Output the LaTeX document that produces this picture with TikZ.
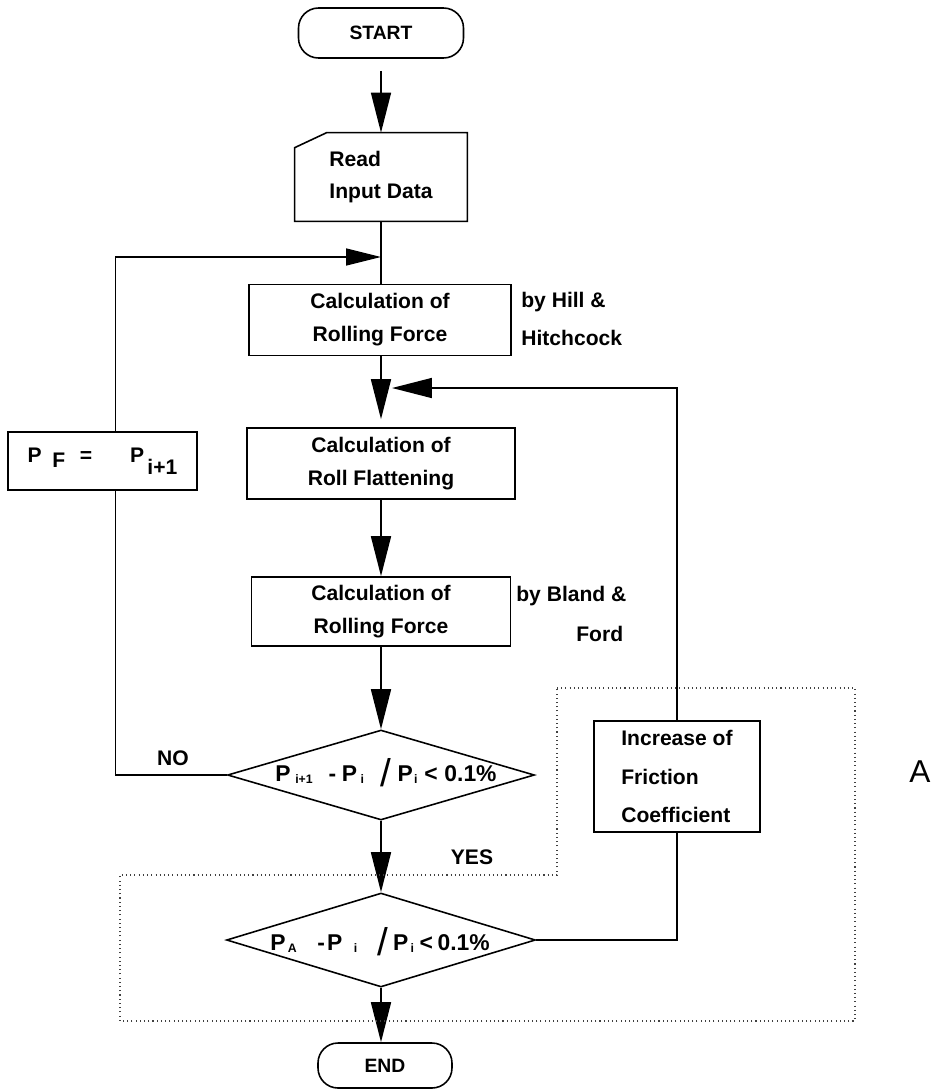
\documentclass[tikz,border=0pt]{standalone}
\usepackage{fontspec}
\setmainfont{Liberation Sans}
\usetikzlibrary{arrows.meta,shapes.geometric,calc}
\newcommand{\sbx}[1]{\raisebox{-0.15ex}{\fontsize{7}{7}\selectfont #1}}
\newcommand{\bigslash}{\raisebox{-0.45ex}{\mdseries\fontsize{22}{22}\selectfont /}}
\begin{document}
\begin{tikzpicture}[x=0.02cm,y=-0.02cm,
  every node/.style={font=\bfseries\fontsize{12}{18.8}\selectfont, inner sep=0pt},
  procbox/.style={draw, line width=0.9pt, align=center},
  term/.style={draw, line width=0.9pt, rounded corners=0.4cm},
  decision/.style={draw, diamond, line width=0.9pt, inner sep=0pt},
  conn/.style={line width=0.9pt},
  bigarrow/.style={conn, -{Triangle[length=0.8cm,width=0.4cm]}},
  midarrow/.style={conn, -{Triangle[length=0.7cm,width=0.34cm]}},
  region/.style={line width=0.6pt, dash pattern=on 0.6pt off 1.8pt, black!75},
  lbl/.style={anchor=west, align=left},
  dtext/.style={font=\bfseries\fontsize{13}{15}\selectfont}]
\useasboundingbox (0,0) rectangle (935,1090);

% nodes
\node[term, minimum width=3.3cm, minimum height=1cm, font=\bfseries\fontsize{11}{13}\selectfont] (start) at (381,33) {START};
\node[minimum width=3.44cm, minimum height=1.76cm, align=left, font=\bfseries\fontsize{12}{18}\selectfont] (read) at (381,177) {Read\\Input Data};
\draw[line width=0.9pt] (read.south west) -- ([yshift=-0.3cm]read.north west) -- ([xshift=0.64cm]read.north west) -- (read.north east) -- (read.south east) -- cycle;

\node[procbox, minimum width=5.24cm, minimum height=1.42cm] (box1) at (380,320) {Calculation of\\Rolling Force};
\node[procbox, minimum width=5.36cm, minimum height=1.42cm] (box2) at (381,463.5) {Calculation of\\Roll Flattening};
\node[procbox, minimum width=5.18cm, minimum height=1.38cm] (box3) at (381,611.5) {Calculation of\\Rolling Force};

\node[decision, minimum width=6.14cm, minimum height=1.8cm] (d1) at (381,775) {};
\node[dtext] (d1txt) at (386,773) {P\hspace{0.2em}\sbx{i+1}\hspace{0.7em}-\hspace{0.25em}P\hspace{0.15em}\sbx{i}\hspace{0.7em}\bigslash\hspace{0.3em}P\hspace{0.05em}\sbx{i}\hspace{0.3em}<\hspace{0.3em}0.1\%};

\node[decision, minimum width=6.18cm, minimum height=1.88cm] (d2) at (381,940) {};
\node[dtext] (d2txt) at (380,942) {P\hspace{0.1em}\sbx{A}\hspace{0.9em}-\hspace{0.1em}P\hspace{0.5em}\sbx{i}\hspace{0.9em}\bigslash\hspace{0.2em}P\hspace{0.1em}\sbx{i}\hspace{0.25em}<\hspace{0.2em}0.1\%};

\node[term, minimum width=2.68cm, minimum height=0.9cm, font=\bfseries\fontsize{11}{13}\selectfont] (end) at (385,1065.5) {END};

\node[procbox, minimum width=3.78cm, minimum height=1.16cm] (pf) at (102.5,461) {P\hspace{0.5em}\raisebox{-0.5ex}{F}\hspace{0.7em}=\hspace{1.8em}P\hspace{0.15em}\raisebox{-1.1ex}{i+1}};

\node[procbox, align=left, minimum width=3.32cm, minimum height=2.22cm, font=\bfseries\fontsize{12}{22}\selectfont] (incr) at (677,776.5) {Increase of\\Friction\\Coefficient};

% labels
\node[lbl] (hill1) at (521,302) {by Hill \&};
\node[lbl] (hill2) at (521,338) {Hitchcock};
\node[lbl] (bland1) at (516,596) {by Bland \&};
\node[lbl] (ford) at (576,634) {Ford};
\node (no) at (173,758) {NO};
\node (yes) at (472,857) {YES};
\node[font=\fontsize{18}{20}\selectfont] (alabel) at (920,772) {A};

% connectors
\draw[bigarrow, shorten <=0.24cm] (start.south) -- (read.north);
\draw[conn] (read.south) -- (read.south |- box1.north);
\coordinate (ltip) at (381,257);
\draw[midarrow] ([xshift=0.26cm]pf.north) |- (ltip);
\draw[conn] (d1.west) -| ([xshift=0.26cm]pf.south);
\draw[bigarrow, shorten >=0.16cm] (box1.south -| box2.north) -- (box2.north);
\coordinate (rtip) at (392,388);
\draw[bigarrow] (incr.north) |- (rtip);
\draw[bigarrow] (box2.south) -- (box3.north);
\draw[bigarrow] (box3.south) -- (d1.north);
\draw[bigarrow] (d1.south) -- (d2.north);
\draw[bigarrow] (d2.south) -- (d2.south |- end.north);
\draw[conn] (d2.east) -| (incr.south);

% dotted region
\draw[region] (557,688) -- (855,688) -- (855,1021) -- (120,1021) -- (120,875) -- (557,875) -- cycle;
\end{tikzpicture}
\end{document}
